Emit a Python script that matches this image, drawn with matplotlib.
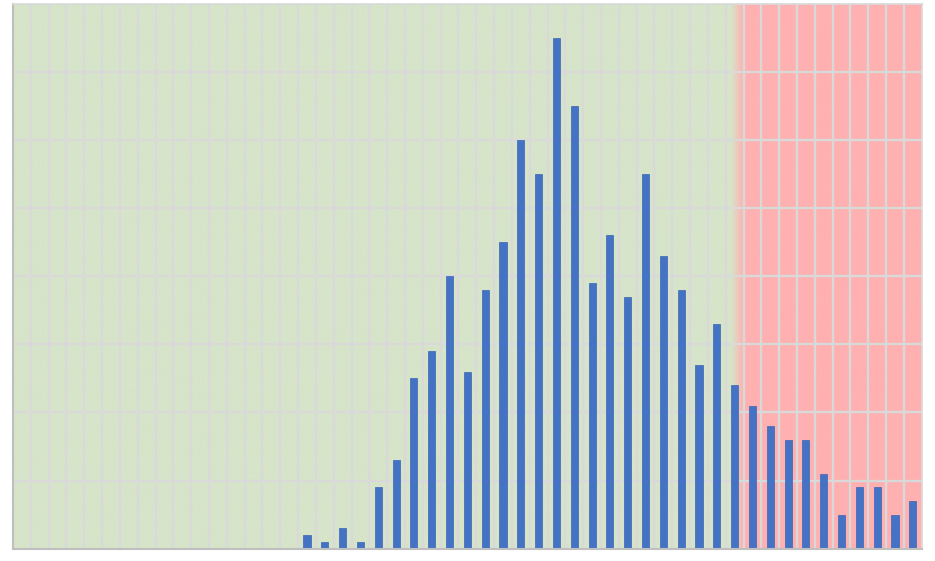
import numpy as np
import matplotlib
matplotlib.use("Agg")
import matplotlib.pyplot as plt
from matplotlib.colors import to_rgb

# ---- data ----
bins = list(range(51))
counts = [0] * 16 + [2, 1, 3, 1, 9, 13, 25, 29, 40, 26,
                     38, 45, 60, 55, 75, 65, 39, 46, 37, 55,
                     43, 38, 27, 33, 24, 21, 18, 16, 16, 11,
                     5, 9, 9, 5, 7]
y_ticks = [0, 10, 20, 30, 40, 50, 60, 70, 80]
green_end = 39.8       # start of colour transition (category units)
red_start = 40.5       # start of red zone

bar_color = "#4472C4"
green = "#D6E4C9"
red = "#FFB0B0"
grid_color = "#D9D9D9"

fig = plt.figure(figsize=(9.35, 5.61), dpi=100)
ax = fig.add_axes([13 / 935, (561 - 548.8) / 561, (921.7 - 13) / 935, (548.8 - 3.5) / 561])

xmin, xmax = -0.5, len(bins) - 0.5
# background with gradient
xs = np.linspace(xmin, xmax, 2000)
g = np.array(to_rgb(green))
r = np.array(to_rgb(red))
t = np.clip((xs - green_end) / (red_start - green_end), 0, 1)
img = (1 - t)[:, None] * g + t[:, None] * r
ax.imshow(img[None, :, :], extent=[xmin, xmax, 0, y_ticks[-1]], aspect="auto", zorder=0, interpolation="bilinear")

# gridlines
for k in range(1, len(bins)):
    ax.axvline(k - 0.5, color=grid_color, lw=1.7, zorder=1)
for yv in y_ticks[1:-1]:
    ax.axhline(yv, color=grid_color, lw=1.7, zorder=1)

ax.bar(bins, counts, width=0.4, color=bar_color, edgecolor="#3A66B5", linewidth=0.5, zorder=2)

ax.set_xlim(xmin, xmax)
ax.set_ylim(y_ticks[0], y_ticks[-1])
ax.set_xticks([])
ax.set_yticks([])
for side in ["left", "bottom"]:
    ax.spines[side].set_color("#BFBFBF")
    ax.spines[side].set_linewidth(1.5)
for side in ["top", "right"]:
    ax.spines[side].set_color("#D9D9D9")
    ax.spines[side].set_linewidth(1.2)

fig.savefig("out.png", dpi=100, facecolor="white")
